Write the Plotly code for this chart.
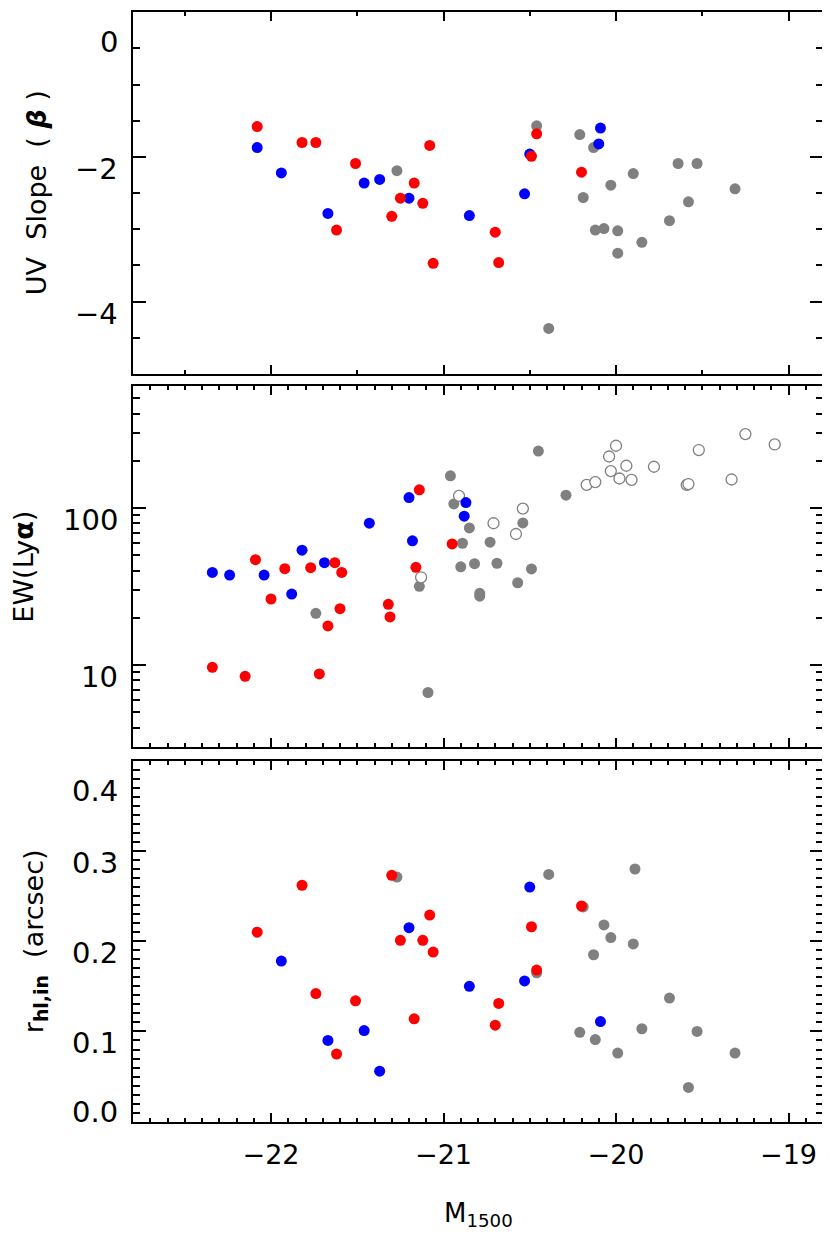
import numpy as np
import plotly.graph_objects as go

# ---------------- data ----------------
# Panel 1: UV slope (beta) vs M1500
beta_red_x = [-22.08, -21.82, -21.74, -21.51, -21.17, -21.25, -21.30, -21.62, -21.08, -21.12, -21.06, -20.70, -20.68, -20.49, -20.46, -20.20]
beta_red_y = [-1.58, -1.80, -1.80, -2.09, -2.36, -2.57, -2.82, -3.01, -1.84, -2.64, -3.47, -3.04, -3.46, -1.99, -1.68, -2.21]
beta_blue_x = [-22.08, -21.94, -21.46, -21.37, -21.20, -21.67, -20.85, -20.53, -20.50, -20.09, -20.10]
beta_blue_y = [-1.87, -2.22, -2.36, -2.31, -2.57, -2.78, -2.81, -2.51, -1.96, -1.60, -1.82]
beta_gray_x = [-21.27, -20.46, -20.39, -20.21, -20.19, -20.13, -20.03, -19.90, -20.12, -20.07, -19.99, -19.99, -19.85, -19.69, -19.64, -19.53, -19.58, -19.31]
beta_gray_y = [-2.19, -1.57, -4.37, -1.69, -2.56, -1.87, -2.39, -2.23, -3.01, -2.99, -3.02, -3.33, -3.18, -2.88, -2.09, -2.09, -2.62, -2.44]

# Panel 2: EW(Lya) vs M1500
ew_red_x = [-22.09, -22.00, -21.92, -21.77, -21.72, -21.67, -21.63, -21.59, -21.60, -22.34, -22.15, -21.32, -21.31, -21.16, -21.14, -20.95]
ew_red_y = [47.0, 26.4, 41.2, 41.8, 8.8, 17.8, 45.0, 39.0, 22.9, 9.7, 8.5, 24.4, 20.3, 42.0, 130.8, 59.2]
ew_blue_x = [-22.34, -22.24, -22.04, -21.88, -21.82, -21.69, -21.43, -21.20, -21.18, -20.87, -20.88]
ew_blue_y = [39.0, 37.5, 37.5, 28.4, 54.0, 45.0, 80.2, 116.8, 62.0, 108.6, 88.9]
ew_gray_x = [-21.74, -21.14, -21.09, -20.96, -20.94, -20.85, -20.89, -20.90, -20.82, -20.79, -20.79, -20.73, -20.69, -20.57, -20.54, -20.49, -20.45, -20.29]
ew_gray_y = [21.4, 31.8, 6.7, 160.7, 106.5, 74.8, 59.8, 42.3, 44.3, 28.7, 27.5, 60.7, 44.6, 33.5, 80.6, 41.0, 231.0, 121.0]
ew_open_x = [-21.13, -20.91, -20.71, -20.58, -20.54, -20.17, -20.12, -20.04, -20.00, -20.03, -19.98, -19.94, -19.91, -19.78, -19.59, -19.58, -19.52, -19.33, -19.25, -19.08]
ew_open_y = [36.3, 119.8, 80.2, 68.5, 99.4, 140.8, 146.6, 213.4, 249.8, 172.2, 154.5, 186.3, 151.5, 183.6, 140.8, 142.5, 234.6, 152.3, 296.5, 254.6]

# Panel 3: r_hl,in vs M1500
r_red_x = [-22.08, -21.82, -21.74, -21.62, -21.51, -21.30, -21.25, -21.17, -21.08, -21.12, -21.06, -20.68, -20.70, -20.46, -20.49, -20.20]
r_red_y = [0.210, 0.262, 0.142, 0.075, 0.134, 0.273, 0.201, 0.114, 0.229, 0.201, 0.188, 0.131, 0.107, 0.168, 0.216, 0.239]
r_blue_x = [-21.94, -21.67, -21.46, -21.37, -21.20, -20.85, -20.53, -20.50, -20.09]
r_blue_y = [0.178, 0.090, 0.101, 0.056, 0.215, 0.150, 0.156, 0.260, 0.111]
r_gray_x = [-21.27, -20.46, -20.39, -20.19, -20.07, -20.03, -20.13, -19.90, -19.89, -20.21, -20.12, -19.99, -19.85, -19.69, -19.53, -19.58, -19.31]
r_gray_y = [0.271, 0.165, 0.274, 0.238, 0.218, 0.204, 0.185, 0.197, 0.280, 0.099, 0.091, 0.076, 0.103, 0.137, 0.100, 0.038, 0.076]

# tick labels
x_ticks = [-22, -21, -20, -19]
beta_ticks = [0, -2, -4]
beta_labels = ["0", "\u22122", "\u22124"]
ew_ticks = [10, 100]
ew_labels = ["10", "100"]
r_ticks = [0.0, 0.1, 0.2, 0.3, 0.4]
r_labels = ["0.0", "0.1", "0.2", "0.3", "0.4"]

RED = "#FF0000"
BLUE = "#0000FF"
GRAY = "#808080"
FONT = "DejaVu Sans"
MS = 11

fig = go.Figure()


def dots(x, y, color, xa, ya, open_=False):
    if open_:
        marker = dict(size=MS, color="white", line=dict(color=GRAY, width=1.3))
    else:
        marker = dict(size=MS, color=color, line=dict(width=0))
    fig.add_trace(go.Scatter(x=x, y=y, mode="markers", marker=marker,
                             xaxis=xa, yaxis=ya, showlegend=False,
                             hoverinfo="skip", cliponaxis=False))


# panel 1
dots(beta_gray_x, beta_gray_y, GRAY, "x", "y")
dots(beta_blue_x, beta_blue_y, BLUE, "x", "y")
dots(beta_red_x, beta_red_y, RED, "x", "y")
# panel 2
dots(ew_gray_x, ew_gray_y, GRAY, "x2", "y2")
dots(ew_open_x, ew_open_y, GRAY, "x2", "y2", open_=True)
dots(ew_blue_x, ew_blue_y, BLUE, "x2", "y2")
dots(ew_red_x, ew_red_y, RED, "x2", "y2")
# panel 3
dots(r_gray_x, r_gray_y, GRAY, "x3", "y3")
dots(r_blue_x, r_blue_y, BLUE, "x3", "y3")
dots(r_red_x, r_red_y, RED, "x3", "y3")

# page body has an 8px default margin: compensate so the page matches 830x1247
OFF = 8
W, H = 830 - OFF, 1247 - OFF
L, T = 133 - OFF, 12 - OFF
PW, PH = 690, 1110
R = W - L - PW
B = H - T - PH


def pdom(top_px, bot_px):
    # page pixel rows -> paper fraction
    top_px -= OFF
    bot_px -= OFF
    return [(T + PH - bot_px) / PH, (T + PH - top_px) / PH]


XR = [-22.8, -18.8]
minor_half = [v for v in np.arange(-22.5, -18.8, 1.0)]
minor_tenth = [round(v, 1) for v in np.arange(-22.7, -18.8, 0.1) if abs(v - round(v)) > 1e-6]


def xaxis(dom_anchor, minors, labels=False):
    return dict(range=XR, domain=[0, 1], anchor=dom_anchor, automargin=False,
                showline=True, linecolor="black",
                linewidth=2, mirror="ticks", ticks="inside", tickmode="array",
                tickvals=x_ticks, ticklen=9, tickwidth=2, tickcolor="black",
                showgrid=False, zeroline=False, showticklabels=labels,
                tickfont=dict(family=FONT, size=27, color="black"),
                ticklabelstandoff=8,
                minor=dict(tickmode="array", tickvals=minors, ticks="inside", ticklen=4,
                           tickwidth=2, tickcolor="black", showgrid=False))


def yaxis(dom, anchor, rng, majors, minors, typ="linear"):
    return dict(range=rng, domain=dom, anchor=anchor, type=typ, automargin=False,
                showline=True, linecolor="black",
                linewidth=2, mirror="ticks", ticks="inside", tickmode="array",
                tickvals=majors, ticklen=13, tickwidth=2, tickcolor="black",
                showgrid=False, zeroline=False, showticklabels=False,
                minor=dict(tickmode="array", tickvals=minors, ticks="inside", ticklen=7,
                           tickwidth=2, tickcolor="black", showgrid=False))


beta_minor = [v for v in np.arange(-4.5, 0, 0.5) if v not in beta_ticks]
ew_minor = [4, 5, 6, 7, 8, 9, 20, 30, 40, 50, 60, 70, 80, 90, 200, 300, 400, 500]
r_minor = [round(v, 2) for v in np.arange(0.01, 0.4, 0.01) if abs(v * 10 - round(v * 10)) > 1e-6]

fig.update_layout(
    width=W, height=H, paper_bgcolor="white", plot_bgcolor="white",
    margin=dict(l=L, r=R, t=T, b=B, autoexpand=False),
    font=dict(family=FONT, color="black"),
    xaxis=xaxis("y", minor_half),
    xaxis2=xaxis("y2", minor_tenth),
    xaxis3=xaxis("y3", minor_tenth, labels=True),
    yaxis=yaxis(pdom(12.3, 374), "x", [-5, 0], beta_ticks, beta_minor),
    yaxis2=yaxis(pdom(386, 747.3), "x2", [np.log10(3), np.log10(600)], ew_ticks, ew_minor, typ="log"),
    yaxis3=yaxis(pdom(760.7, 1121.7), "x3", [0, 0.4], r_ticks, r_minor),
)

ann = []
def ylabels(vals, labs, yref, rng, log=False):
    lo, hi = rng
    for v, t in zip(vals, labs):
        yv = np.log10(v) if log else v
        if abs(yv - hi) < 1e-9:
            sh = -30
        elif abs(yv - lo) < 1e-9:
            sh = 10
        else:
            sh = -12
        ann.append(dict(text=t, xref="paper", x=0, xanchor="right", xshift=-13,
                        yref=yref, y=yv, yanchor="middle", yshift=sh, showarrow=False,
                        font=dict(family=FONT, size=29, color="black")))

ylabels(beta_ticks, beta_labels, "y", [-5, 0])
ylabels(ew_ticks, ew_labels, "y2", [np.log10(3), np.log10(600)], log=True)
ylabels(r_ticks, r_labels, "y3", [0, 0.4])

titles = [
    ("UV\u00a0\u00a0Slope\u00a0\u00a0(\u00a0<b><i>\u03b2</i></b>\u00a0)", "y domain", -97),
    ("EW(Ly<b>\u03b1</b>)", "y2 domain", -109),
    ("r<sub><b>hl,in</b></sub>\u00a0\u00a0(arcsec)", "y3 domain", -98),
]
for txt, yref, xs in titles:
    ann.append(dict(text=txt, xref="paper", x=0, xanchor="center", xshift=xs,
                    yref=yref, y=0.5, yanchor="middle", textangle=-90, showarrow=False,
                    font=dict(family=FONT, size=27, color="black")))

ann.append(dict(text="M<sub>1500</sub>", xref="paper", x=0.5, xanchor="center",
                yref="paper", y=0, yanchor="middle", yshift=-92, showarrow=False,
                font=dict(family=FONT, size=26, color="black")))

fig.update_layout(annotations=ann)
fig.write_html("out.html")
